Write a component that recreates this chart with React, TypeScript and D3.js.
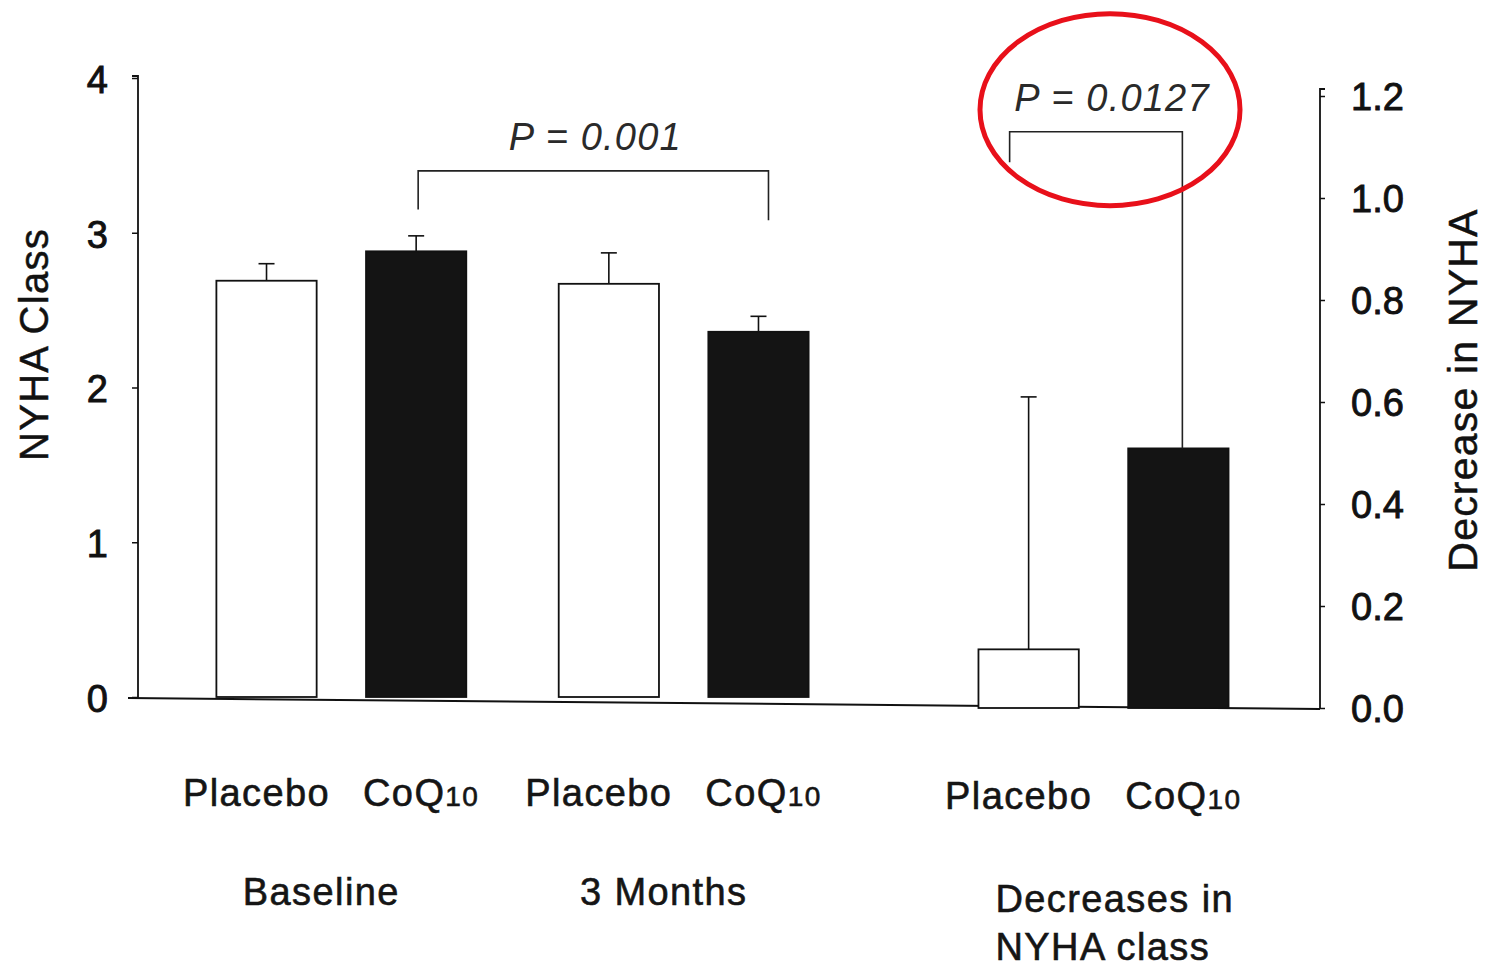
import React, { useRef, useEffect } from 'react';
import * as d3 from 'd3';

// groups and treatments
const groups = ['Baseline', '3 Months'];
const deltaGroup = ['Decreases in NYHA class'];
const treatments = ['Placebo', 'CoQ10'];

// NYHA class (left axis): [placebo, coq10] per group
const nyhaMean = [
  [2.69, 2.88],
  [2.67, 2.36]
];
const nyhaErr = [
  [0.11, 0.10],
  [0.20, 0.10]
];

// decrease in NYHA class (right axis)
const deltaMean = [0.115, 0.509];
const deltaErr = [0.495, 0];

// ticks
const leftTicks = [0, 1, 2, 3, 4];
const rightTicks = [0, 0.2, 0.4, 0.6, 0.8, 1.0, 1.2];

// significance brackets: top level, left leg end, right leg end
const pLabels = ['P = 0.001', 'P = 0.0127'];
const bracketNyha = [3.4, 3.15, 3.08];
const bracketDelta = [1.13, 1.07, 0.509];

const FONT = '"Liberation Sans", Arial, Helvetica, sans-serif';

const App = () => {
  const chartRef = useRef<SVGSVGElement>(null);

  useEffect(() => {
    const width = 1488;
    const height = 968;
    const axisLeftX = 138;
    const axisRightX = 1320;
    const splitX = 887;

    const svg = d3.select(chartRef.current)
      .attr('width', width)
      .attr('height', height)
      .attr('viewBox', [0, 0, width, height] as any)
      .style('position', 'absolute')
      .style('left', '0px')
      .style('top', '0px')
      .style('background', '#fff');
    svg.selectAll('*').remove();

    const yL = d3.scaleLinear().domain([0, 4]).range([697, 78]);
    const yR = d3.scaleLinear().domain([0, 1.2]).range([708, 96]);

    const xGroup = d3.scaleBand().domain(groups)
      .range([axisLeftX, splitX]).paddingInner(0.27).paddingOuter(0.229);
    const xDelta = d3.scaleBand().domain(deltaGroup)
      .range([splitX, axisRightX]).paddingInner(0.27).paddingOuter(0.267);
    const xInner = d3.scaleBand().domain(treatments)
      .range([0, xGroup.bandwidth()]).paddingInner(0.33).paddingOuter(0);
    const xInnerD = d3.scaleBand().domain(treatments)
      .range([0, xDelta.bandwidth()]).paddingInner(0.33).paddingOuter(0);

    const fillFor = (t: string) => (t === 'Placebo' ? '#fff' : '#141414');

    // x axis (slightly skewed like the scan)
    svg.append('line')
      .attr('x1', axisLeftX - 10).attr('y1', yL(0) + 1)
      .attr('x2', axisRightX).attr('y2', yR(0) + 1)
      .attr('stroke', '#111').attr('stroke-width', 2);

    // left axis
    const gL = svg.append('g')
      .attr('transform', `translate(${axisLeftX},0)`)
      .call(d3.axisLeft(yL).tickValues(leftTicks).tickSize(6).tickPadding(24).tickFormat(d3.format('d')));
    gL.select('.domain').attr('stroke', '#111').attr('stroke-width', 1.8).attr('d', `M-6,${yL(4) - 2}H0V${yL(0) + 1}`);
    gL.selectAll('.tick line').attr('stroke', '#111').attr('stroke-width', 1.5);
    gL.selectAll('.tick text')
      .attr('font-family', FONT).attr('font-size', 38).attr('fill', '#111')
      .attr('stroke', '#111').attr('stroke-width', 0.9)
      .attr('dy', '0.38em');

    // right axis
    const gR = svg.append('g')
      .attr('transform', `translate(${axisRightX},0)`)
      .call(d3.axisRight(yR).tickValues(rightTicks).tickSize(5).tickPadding(26).tickFormat(d3.format('.1f')));
    gR.select('.domain').attr('stroke', '#111').attr('stroke-width', 1.8).attr('d', `M5,${yR(1.2) - 7}H0V${yR(0) + 1}`);
    gR.selectAll('.tick line').attr('stroke', '#111').attr('stroke-width', 1.5);
    gR.selectAll('.tick text')
      .attr('font-family', FONT).attr('font-size', 38).attr('fill', '#111')
      .attr('stroke', '#111').attr('stroke-width', 0.9)
      .attr('dy', '0.36em');

    // axis titles
    svg.append('text')
      .attr('transform', `translate(48,${(yL(0) + yL(4)) / 2 - 43}) rotate(-90)`)
      .attr('text-anchor', 'middle')
      .attr('font-family', FONT).attr('font-size', 40).attr('letter-spacing', 1.3)
      .attr('fill', '#111').attr('stroke', '#111').attr('stroke-width', 0.5)
      .text('NYHA Class');
    svg.append('text')
      .attr('transform', `translate(1477,${(yR(0) + yR(1.2)) / 2 - 12}) rotate(-90)`)
      .attr('text-anchor', 'middle')
      .attr('font-family', FONT).attr('font-size', 41).attr('letter-spacing', 1.2)
      .attr('fill', '#111').attr('stroke', '#111').attr('stroke-width', 0.5)
      .text('Decrease in NYHA');

    // bars: NYHA class
    const bars = groups.flatMap((g, gi) => treatments.map((t, ti) => ({
      x: xGroup(g)! + xInner(t)!, w: xInner.bandwidth(), t,
      v: nyhaMean[gi][ti], e: nyhaErr[gi][ti], y: yL
    })));
    const dBars = treatments.map((t, ti) => ({
      x: xDelta(deltaGroup[0])! + xInnerD(t)!, w: xInnerD.bandwidth(), t,
      v: deltaMean[ti], e: deltaErr[ti], y: yR
    }));
    const allBars = [...bars, ...dBars];

    // error bars (upper only)
    const eb = svg.append('g').attr('stroke', '#111').attr('stroke-width', 1.6);
    allBars.filter(d => d.e > 0).forEach(d => {
      const cx = d.x + d.w / 2;
      eb.append('line').attr('x1', cx).attr('x2', cx)
        .attr('y1', d.y(d.v)).attr('y2', d.y(d.v + d.e));
      eb.append('line').attr('x1', cx - 8).attr('x2', cx + 8)
        .attr('y1', d.y(d.v + d.e)).attr('y2', d.y(d.v + d.e));
    });

    svg.append('g')
      .selectAll('rect')
      .data(allBars)
      .join('rect')
      .attr('x', d => d.x)
      .attr('y', d => d.y(d.v))
      .attr('width', d => d.w)
      .attr('height', d => d.y(0) - d.y(d.v))
      .attr('fill', d => fillFor(d.t))
      .attr('stroke', '#111')
      .attr('stroke-width', 1.8);

    // significance brackets
    const drawBracket = (x1: number, x2: number, y: any, lv: number[], label: string, shift: number) => {
      const top = y(lv[0]);
      svg.append('path')
        .attr('d', `M${x1},${y(lv[1])}V${top}H${x2}V${y(lv[2])}`)
        .attr('fill', 'none').attr('stroke', '#222').attr('stroke-width', 1.6);
      const cx = (x1 + x2) / 2 + shift;
      svg.append('text')
        .attr('x', cx).attr('y', top - 21)
        .attr('text-anchor', 'middle')
        .attr('font-family', FONT).attr('font-style', 'italic')
        .attr('font-size', 38).attr('letter-spacing', 1.2)
        .attr('fill', '#2a2a2a')
        .text(label);
      return { cx, cy: top - 21 };
    };
    const c = (b: any) => b.x + b.w / 2;
    drawBracket(c(bars[1]) + 2, c(bars[3]) + 10, yL, bracketNyha, pLabels[0], 2);
    const p2 = drawBracket(c(dBars[0]) - 19, c(dBars[1]) + 4, yR, bracketDelta, pLabels[1], 16);

    // red highlight ellipse
    svg.append('ellipse')
      .attr('cx', p2.cx - 2).attr('cy', p2.cy - 1)
      .attr('rx', 130).attr('ry', 96)
      .attr('fill', 'none').attr('stroke', '#e8101a').attr('stroke-width', 5);

    // treatment labels
    const lab = svg.append('g')
      .attr('font-family', FONT).attr('font-size', 38).attr('letter-spacing', 1.4)
      .attr('fill', '#151515').attr('stroke', '#151515').attr('stroke-width', 0.6)
      .attr('text-anchor', 'middle');
    allBars.forEach((d, i) => {
      const tx = lab.append('text')
        .attr('x', c(d) + (d.t === 'Placebo' ? -10 : 5))
        .attr('y', 806 + (i >= 4 ? 3 : 0));
      if (d.t === 'Placebo') {
        tx.text('Placebo');
      } else {
        tx.append('tspan').text('CoQ');
        tx.append('tspan').attr('font-size', 28).text('10');
      }
    });

    // group labels
    const gl = svg.append('g')
      .attr('font-family', FONT).attr('font-size', 38).attr('letter-spacing', 1.4)
      .attr('fill', '#151515').attr('stroke', '#151515').attr('stroke-width', 0.6);
    groups.forEach(g => {
      gl.append('text')
        .attr('x', xGroup(g)! + xGroup.bandwidth() / 2 - 20)
        .attr('y', 905)
        .attr('text-anchor', 'middle')
        .text(g);
    });
    const dx = xDelta(deltaGroup[0])! + 17;
    gl.append('text').attr('x', dx).attr('y', 912).text('Decreases in');
    gl.append('text').attr('x', dx).attr('y', 960).text('NYHA class');
  }, []);

  return <svg ref={chartRef}></svg>;
};

export default App;
